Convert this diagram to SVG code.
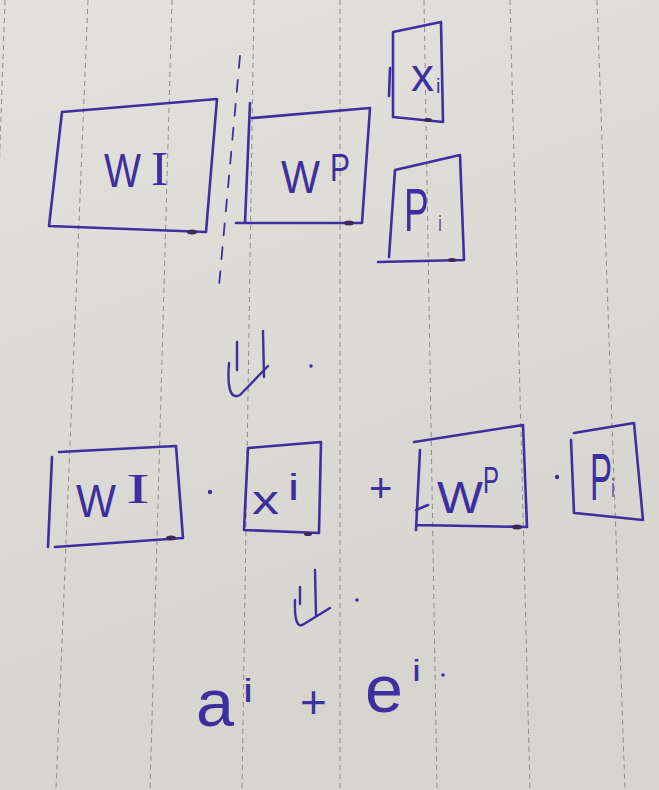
<svg xmlns="http://www.w3.org/2000/svg" width="659" height="790" viewBox="0 0 659 790">
<defs>
<linearGradient id="paper" x1="0" y1="0" x2="0.3" y2="1">
<stop offset="0" stop-color="#e2e1dc"/>
<stop offset="1" stop-color="#d5d4cf"/>
</linearGradient>
<style>
.rule{stroke:#8c8b88;stroke-width:1;stroke-dasharray:5 4;fill:none}
.box{stroke:#3e2f9e;stroke-width:2.6;fill:none;stroke-linecap:round;stroke-linejoin:round}
.pen{stroke:#3e2f9e;stroke-width:2.4;fill:none;stroke-linecap:round;stroke-linejoin:round}
.t{fill:#3e2f9e;font-family:"Liberation Sans","DejaVu Sans",sans-serif}
.s{fill:#3e2f9e;font-family:"Liberation Serif","DejaVu Serif",serif}
.dot{fill:#3e2f9e}
.blot{fill:#3b2a55}
</style>
</defs>
<rect width="659" height="790" fill="url(#paper)"/>
<g id="rules">
<line class="rule" x1="5" y1="0" x2="-22" y2="790"/>
<line class="rule" x1="88" y1="0" x2="56" y2="790"/>
<line class="rule" x1="172" y1="0" x2="150" y2="790"/>
<line class="rule" x1="254" y1="0" x2="242" y2="790"/>
<line class="rule" x1="340" y1="0" x2="340" y2="790"/>
<line class="rule" x1="424" y1="0" x2="437" y2="790"/>
<line class="rule" x1="510" y1="0" x2="530" y2="790"/>
<line class="rule" x1="597" y1="0" x2="625" y2="790"/>
</g>
<line id="divider" x1="240" y1="56" x2="219" y2="286" stroke="#3e2f9e" stroke-width="1.8" stroke-dasharray="12 12" stroke-linecap="round"/>

<g id="WI-1">
<path class="box" d="M62,112 L217,99 L206,232 L49,226 Z"/>
<ellipse class="blot" cx="192" cy="232" rx="5" ry="2.5"/>
<text class="t" x="104" y="187" font-size="48" textLength="37" lengthAdjust="spacingAndGlyphs">W</text>
<text class="s" x="151" y="185" font-size="48" textLength="17" lengthAdjust="spacingAndGlyphs">I</text>
</g>
<g id="WP-1">
<path class="box" d="M250,103 L245,223 M252,118 L370,108 L362,223 L236,223"/>
<ellipse class="blot" cx="349" cy="223" rx="5" ry="2.5"/>
<text class="t" x="281" y="193" font-size="46" textLength="39" lengthAdjust="spacingAndGlyphs">W</text>
<text class="t" x="330" y="181" font-size="38" textLength="20" lengthAdjust="spacingAndGlyphs">P</text>
</g>
<g id="xi-1">
<path class="box" d="M393,32 L441,22 L443,122 L393,117 Z M390,68 L389,96"/>
<ellipse class="blot" cx="428" cy="120" rx="4" ry="2"/>
<text class="t" x="411" y="91" font-size="46" textLength="23" lengthAdjust="spacingAndGlyphs">x</text>
<text class="t" x="436" y="93" font-size="20">i</text>
</g>
<g id="Pi-1">
<path class="box" d="M395,170 L460,155 L464,260 L378,262 M395,170 L389,257"/>
<ellipse class="blot" cx="452" cy="260" rx="4" ry="2"/>
<text class="t" transform="translate(404,231) scale(0.6,1)" font-size="62">P<tspan font-size="22" dx="16">i</tspan></text>
</g>

<g id="WI-2">
<path class="box" d="M59,452 L176,446 L183,538 L55,547 M52,457 L48,547"/>
<ellipse class="blot" cx="171" cy="538" rx="5" ry="2.5"/>
<text class="t" x="76" y="517" font-size="46" textLength="40" lengthAdjust="spacingAndGlyphs">W</text>
<text class="s" x="126" y="503" font-size="42" textLength="24" lengthAdjust="spacingAndGlyphs">I</text>
</g>
<circle class="dot" cx="210" cy="492" r="2.2"/>
<g id="xi-2">
<path class="box" d="M248,448 L321,442 L319,533 L244,530 Z"/>
<ellipse class="blot" cx="308" cy="534" rx="4" ry="2"/>
<text class="t" x="252" y="514" font-size="40" textLength="27" lengthAdjust="spacingAndGlyphs">x</text>
<text class="t" x="288" y="500" font-size="36" textLength="11" lengthAdjust="spacingAndGlyphs">i</text>
</g>
<text id="plus-1" class="t" x="369" y="502" font-size="40">+</text>
<g id="WP-2">
<path class="box" d="M414,442 L523,425 L527,527 L416,525 M420,450 L416,530 M416,510 L428,505"/>
<ellipse class="blot" cx="517" cy="527" rx="5" ry="2.5"/>
<text class="t" x="437" y="513" font-size="44" textLength="46" lengthAdjust="spacingAndGlyphs">W</text>
<text class="t" x="483" y="493" font-size="36" textLength="16" lengthAdjust="spacingAndGlyphs">P</text>
</g>
<circle class="dot" cx="557" cy="477" r="2.2"/>
<g id="Pi-2">
<path class="box" d="M574,433 L634,423 L643,520 L575,513 M571,440 L574,513"/>
<text class="t" transform="translate(590,500) scale(0.5,1)" font-size="66">P<tspan font-size="26" dx="-1" dy="-3">i</tspan></text>
</g>

<g id="connectors">
<path class="pen" d="M237,342 L237,370 M263,331 L264,377 M229,363 Q226,402 240,395 L268,366"/>
<circle class="dot" cx="311" cy="366" r="1.8"/>
<path class="pen" d="M300,587 L300,604 M315,570 L316,615 M295,600 Q294,631 304,624 L330,608"/>
<circle class="dot" cx="357" cy="600" r="1.8"/>
</g>

<g id="result">
<text class="t" x="196" y="726" font-size="66" textLength="38" lengthAdjust="spacingAndGlyphs">a</text>
<text class="t" x="243" y="702" font-size="34" textLength="10" lengthAdjust="spacingAndGlyphs">i</text>
<text class="t" x="300" y="718" font-size="46">+</text>
<text class="t" x="365" y="712" font-size="66" textLength="38" lengthAdjust="spacingAndGlyphs">e</text>
<text class="t" x="412" y="681" font-size="30" textLength="9" lengthAdjust="spacingAndGlyphs">i</text>
<circle class="dot" cx="443" cy="675" r="1.8"/>
</g>
</svg>
